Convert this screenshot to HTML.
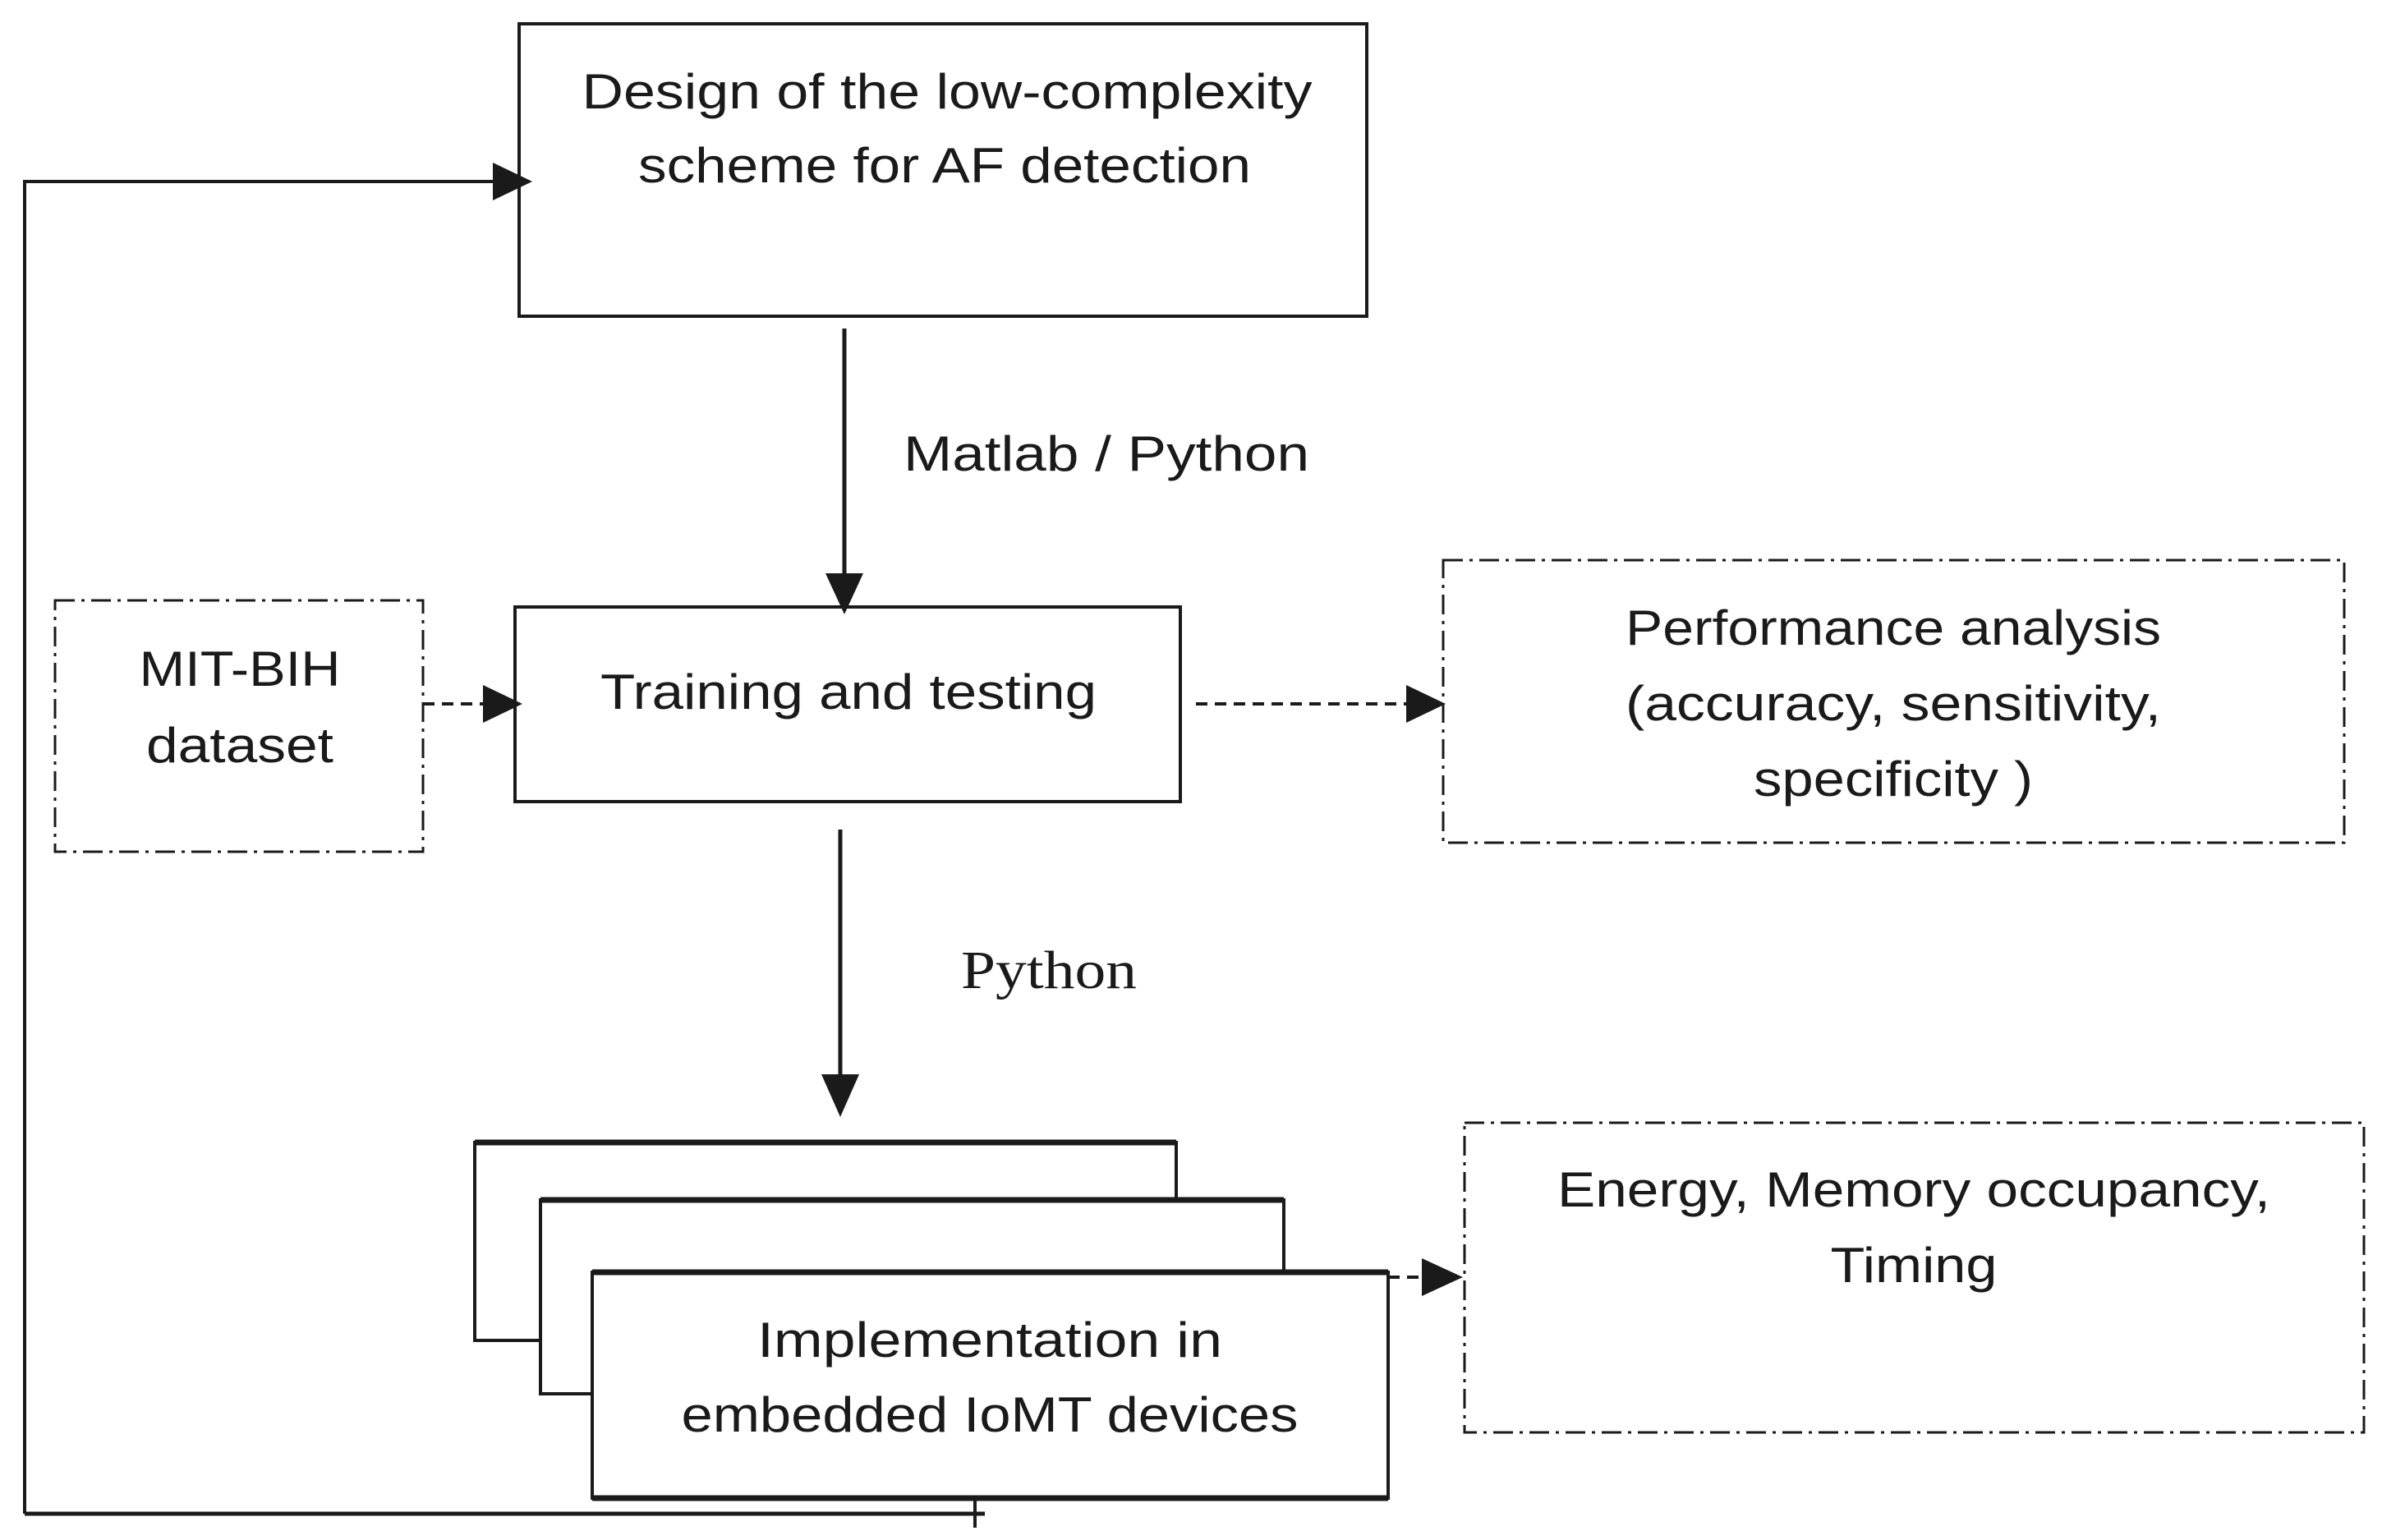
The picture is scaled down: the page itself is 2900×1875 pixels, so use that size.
<!DOCTYPE html>
<html><head><meta charset="utf-8"><style>html,body{margin:0;padding:0;background:#fff}svg{display:block}</style></head>
<body>
<svg width="2900" height="1875" viewBox="0 0 2900 1875" xmlns="http://www.w3.org/2000/svg">
<g fill="none" stroke="#1a1a1a" stroke-width="4">
<rect x="632" y="29" width="1032" height="356"/>
<rect x="627" y="739" width="810" height="237"/>
<rect x="67" y="731" width="448" height="306" stroke-dasharray="24,8,4,8" stroke-width="3"/>
<rect x="1757" y="682" width="1097" height="344" stroke-dasharray="24,8,4,8" stroke-width="3"/>
<rect x="1783" y="1367" width="1095" height="377" stroke-dasharray="24,8,4,8" stroke-width="3"/>
<rect x="578" y="1391" width="854" height="241" fill="#fff"/>
<line x1="578" y1="1391" x2="1432" y2="1391" stroke-width="7"/>
<rect x="658" y="1461" width="905" height="236" fill="#fff"/>
<line x1="658" y1="1461" x2="1563" y2="1461" stroke-width="7"/>
<rect x="721" y="1549" width="969" height="275" fill="#fff"/>
<line x1="721" y1="1549" x2="1690" y2="1549" stroke-width="7"/>
<line x1="721" y1="1824" x2="1690" y2="1824" stroke-width="7"/>
<polyline points="1187,1826 1187,1860"/>
<polyline points="30,1843 1199,1843" stroke-width="5"/>
<polyline points="30,1843 30,221 600,221"/>
<line x1="1028" y1="400" x2="1028" y2="700" stroke-width="5"/>
<line x1="1023" y1="1010" x2="1023" y2="1310" stroke-width="5"/>
<line x1="515" y1="857" x2="590" y2="857" stroke-dasharray="14,9"/>
<line x1="1456" y1="857" x2="1715" y2="857" stroke-dasharray="14,9"/>
<line x1="1690" y1="1555" x2="1735" y2="1555" stroke-dasharray="14,9"/>
</g>
<g fill="#1a1a1a">
<path d="M600,198 L648,221 L600,244 z"/>
<path d="M1005,698 L1051,698 L1028,748 z"/>
<path d="M1000,1308 L1046,1308 L1023,1360 z"/>
<path d="M588,834 L636,857 L588,880 z"/>
<path d="M1712,834 L1760,857 L1712,880 z"/>
<path d="M1731,1532 L1781,1555 L1731,1578 z"/>
</g>
<g font-family="'Liberation Sans', sans-serif" font-size="60" fill="#1a1a1a" text-anchor="middle">
<text x="1153" y="132" textLength="889" lengthAdjust="spacingAndGlyphs">Design of the low-complexity</text>
<text x="1150" y="222" textLength="746" lengthAdjust="spacingAndGlyphs">scheme for AF detection</text>
<text x="1347" y="573" textLength="494" lengthAdjust="spacingAndGlyphs">Matlab / Python</text>
<text x="1033" y="863" textLength="604" lengthAdjust="spacingAndGlyphs">Training and testing</text>
<text x="292" y="835" textLength="245" lengthAdjust="spacingAndGlyphs">MIT-BIH</text>
<text x="292" y="928" textLength="228" lengthAdjust="spacingAndGlyphs">dataset</text>
<text x="2305" y="785" textLength="652" lengthAdjust="spacingAndGlyphs">Performance analysis</text>
<text x="2305" y="877" textLength="652" lengthAdjust="spacingAndGlyphs">(accuracy, sensitivity,</text>
<text x="2305" y="969" textLength="340" lengthAdjust="spacingAndGlyphs">specificity )</text>
<text x="1205" y="1652" textLength="566" lengthAdjust="spacingAndGlyphs">Implementation in</text>
<text x="1205" y="1743" textLength="751" lengthAdjust="spacingAndGlyphs">embedded IoMT devices</text>
<text x="2330" y="1469" textLength="868" lengthAdjust="spacingAndGlyphs">Energy, Memory occupancy,</text>
<text x="2330" y="1561" textLength="203" lengthAdjust="spacingAndGlyphs">Timing</text>
<text x="1277" y="1203" font-family="'Liberation Serif', serif" font-size="66" textLength="214" lengthAdjust="spacingAndGlyphs">Python</text>
</g>
</svg>
</body></html>
